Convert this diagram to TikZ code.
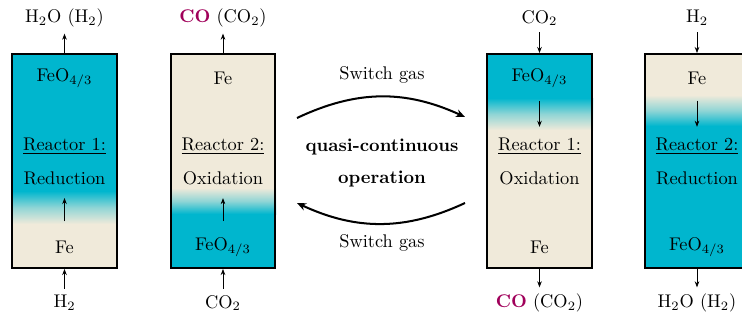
\documentclass[tikz,border=0pt]{standalone}
\usepackage{xcolor}
\usepackage{tikz}
\usetikzlibrary{arrows.meta,positioning}
\definecolor{OxCyan}{RGB}{0,182,206}
\definecolor{FeBeige}{RGB}{240,234,218}
\definecolor{COPurple}{RGB}{160,0,90}

\begin{document}
\begin{tikzpicture}[x=0.545pt, y=0.545pt,
            reactor/.style={draw, line width=1.1pt, minimum width=57.2pt, minimum height=116.6pt, inner sep=0pt},
            fade/.style={middle color=OxCyan!40!FeBeige},
            arr/.style={-{Stealth[length=3.3pt, width=2.5pt]}},
            bigarr/.style={-{Stealth[length=5pt, width=4.2pt]}, line width=1.1pt}
        ]
            \clip (0,0) rectangle (742,320);

            % bed contents
            \fill[OxCyan] (12,266) rectangle (117,129);
            \shade[top color=OxCyan, bottom color=FeBeige, fade] (12,129) rectangle (117,96);
            \fill[FeBeige] (12,96) rectangle (117,52);

            \fill[FeBeige] (170,266) rectangle (276,132);
            \shade[top color=FeBeige, bottom color=OxCyan, fade] (170,132) rectangle (276,106);
            \fill[OxCyan] (170,106) rectangle (276,52);

            \fill[OxCyan] (486,266) rectangle (593,222);
            \shade[top color=OxCyan, bottom color=FeBeige, fade] (486,222) rectangle (593,190);
            \fill[FeBeige] (486,190) rectangle (593,52);

            \fill[FeBeige] (644,266) rectangle (750,225);
            \shade[top color=FeBeige, bottom color=OxCyan, fade] (644,225) rectangle (750,194);
            \fill[OxCyan] (644,194) rectangle (750,52);

            \node[reactor] (r1) at (64.5,159) {};
            \node[reactor] (r2) at (223,159) {};
            \node[reactor] (r3) at (539.5,159) {};
            \node[reactor] (r4) at (697,159) {};

            % left: before switching
            \node (r1top)  at (64.5,242) {FeO$_{4/3}$};
            \node (r1name) at (64.5,174) {\underline{Reactor 1:}};
            \node (r1proc) at (64.5,142) {Reduction};
            \node (r1bot)  at (64.5,73)  {Fe};
            \node (r1out)  at (64.5,302) {H$_2$O (H$_2$)};
            \node (r1in)   at (64.5,17)  {H$_2$};

            \node (r2top)  at (223,242) {Fe};
            \node (r2name) at (223,174) {\underline{Reactor 2:}};
            \node (r2proc) at (223,142) {Oxidation};
            \node (r2bot)  at (223,73)  {FeO$_{4/3}$};
            \node (r2out)  at (223,302) {\textcolor{COPurple}{\textbf{CO}} (CO$_2$)};
            \node (r2in)   at (223,17)  {CO$_2$};

            % right: after switching
            \node (r3top)  at (539.5,242) {FeO$_{4/3}$};
            \node (r3name) at (539.5,174) {\underline{Reactor 1:}};
            \node (r3proc) at (539.5,142) {Oxidation};
            \node (r3bot)  at (539.5,73)  {Fe};
            \node (r3in)   at (539.5,302) {CO$_2$};
            \node (r3out)  at (539.5,17)  {\textcolor{COPurple}{\textbf{CO}} (CO$_2$)};

            \node (r4top)  at (697,242) {Fe};
            \node (r4name) at (697,174) {\underline{Reactor 2:}};
            \node (r4proc) at (697,142) {Reduction};
            \node (r4bot)  at (697,73)  {FeO$_{4/3}$};
            \node (r4in)   at (697,302) {H$_2$};
            \node (r4out)  at (697,17)  {H$_2$O (H$_2$)};

            % middle
            \node (sw1) at (382,245) {Switch gas};
            \node (sw2) at (382,77)  {Switch gas};
            \node[font=\bfseries, align=center] (quasi) at (382,157) {quasi-continuous\\[5.5pt]operation};
            \coordinate (sa) at (297,202);
            \coordinate (sb) at (465,203);
            \coordinate (sc) at (465,117);
            \coordinate (sd) at (297,117);

            \draw[arr] (r1in) -- (r1.south);
            \draw[arr] (r1.north) -- (r1out);
            \draw[arr, shorten <=7pt, shorten >=3.8pt] (r1bot) -- (r1proc);

            \draw[arr] (r2in) -- (r2.south);
            \draw[arr] (r2.north) -- (r2out);
            \draw[arr, shorten <=5.2pt, shorten >=3.8pt] (r2bot) -- (r2proc);

            \draw[arr] (r3in) -- (r3.north);
            \draw[arr] (r3.south) -- (r3out);
            \draw[arr, shorten <=3.6pt, shorten >=2.4pt] (r3top) -- (r3name);

            \draw[arr] (r4in) -- (r4.north);
            \draw[arr] (r4.south) -- (r4out);
            \draw[arr, shorten <=5.4pt, shorten >=2.4pt] (r4top) -- (r4name);

            \draw[bigarr] (sa) to[bend left=25] (sb);
            \draw[bigarr] (sc) to[bend left=25] (sd);

        \end{tikzpicture}
\end{document}
